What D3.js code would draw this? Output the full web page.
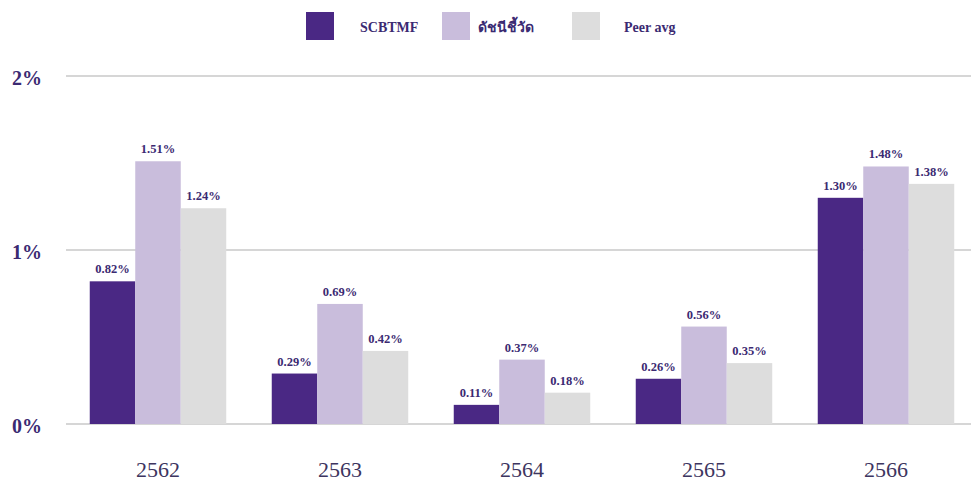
<!DOCTYPE html>
<html>
<head>
<meta charset="utf-8">
<script src="https://cdn.jsdelivr.net/npm/d3@7"></script>
<style>
  body { margin: 0; background: #fff; }
  svg text { font-family: "Liberation Serif", "DejaVu Serif", serif; }
</style>
</head>
<body>
<div id="chart"></div>
<script>
// Data
const years = ["2562", "2563", "2564", "2565", "2566"];
const seriesNames = ["SCBTMF", "ดัชนีชี้วัด", "Peer avg"];
const scbtmf = [0.82, 0.29, 0.11, 0.26, 1.30];
const benchmark = [1.51, 0.69, 0.37, 0.56, 1.48];
const peerAvg = [1.24, 0.42, 0.18, 0.35, 1.38];
const yTicks = [0, 1, 2];

const colors = ["#4a2884", "#c9bddc", "#dddddd"];
const labelColor = "#3b2a72";

const width = 971;
const height = 484;

const svg = d3.select("#chart")
  .append("svg")
  .attr("width", width)
  .attr("height", height);

// Build rows for the grouped bars
const series = [scbtmf, benchmark, peerAvg];
const rows = years.map((y, i) => ({
  year: y,
  values: series.map((s, k) => ({ key: k, value: s[i] }))
}));

// Scales
const x0 = d3.scaleBand()
  .domain(years)
  .range([67, 977])
  .paddingInner(0.25)
  .paddingOuter(0.125);

const x1 = d3.scaleBand()
  .domain([0, 1, 2])
  .range([0, x0.bandwidth()]);

const y = d3.scaleLinear()
  .domain([0, 2])
  .range([424, 76]);

// Gridlines
svg.append("g")
  .selectAll("line")
  .data(yTicks)
  .join("line")
  .attr("x1", 66)
  .attr("x2", width)
  .attr("y1", d => y(d))
  .attr("y2", d => y(d))
  .attr("stroke", "#d6d6d6")
  .attr("stroke-width", 2);

// Y axis labels
const yAxis = d3.axisLeft(y)
  .tickValues(yTicks)
  .tickFormat(d => d + "%")
  .tickSize(0)
  .tickPadding(0);

svg.append("g")
  .attr("transform", "translate(42,0)")
  .call(yAxis)
  .call(g => g.select(".domain").remove())
  .call(g => g.selectAll("text")
    .attr("fill", labelColor)
    .attr("font-size", 20)
    .attr("font-weight", "bold")
    .attr("dy", "0.4em"));

// X axis labels
const xAxis = d3.axisBottom(x0).tickSize(0).tickPadding(0);

svg.append("g")
  .attr("transform", "translate(0,462)")
  .call(xAxis)
  .call(g => g.select(".domain").remove())
  .call(g => g.selectAll("text")
    .attr("fill", "#3d3560")
    .attr("font-size", 22)
    .attr("dy", "0.7em"));

// Bars
const groups = svg.append("g")
  .selectAll("g")
  .data(rows)
  .join("g")
  .attr("transform", d => `translate(${x0(d.year)},0)`);

groups.selectAll("rect")
  .data(d => d.values)
  .join("rect")
  .attr("x", d => x1(d.key))
  .attr("y", d => y(d.value))
  .attr("width", x1.bandwidth())
  .attr("height", d => y(0) - y(d.value))
  .attr("fill", d => colors[d.key]);

groups.selectAll("text.value")
  .data(d => d.values)
  .join("text")
  .attr("class", "value")
  .attr("x", d => x1(d.key) + x1.bandwidth() / 2)
  .attr("y", d => y(d.value) - 8)
  .attr("text-anchor", "middle")
  .attr("fill", labelColor)
  .attr("font-size", 12.5)
  .attr("font-weight", "bold")
  .text(d => d.value.toFixed(2) + "%");

// Legend
const legendX = [306, 442, 572];
const legendTextX = [360, 478, 624];

const legend = svg.append("g");
legend.selectAll("rect")
  .data(seriesNames)
  .join("rect")
  .attr("x", (d, i) => legendX[i])
  .attr("y", 12)
  .attr("width", 28)
  .attr("height", 28)
  .attr("fill", (d, i) => colors[i]);

legend.selectAll("text")
  .data(seriesNames)
  .join("text")
  .attr("x", (d, i) => legendTextX[i])
  .attr("y", 32)
  .attr("fill", labelColor)
  .attr("font-size", 14)
  .attr("font-weight", "bold")
  .style("font-family", (d, i) => i === 1 ? "'Noto Sans', 'DejaVu Sans', sans-serif" : null)
  .text(d => d);
</script>
</body>
</html>
